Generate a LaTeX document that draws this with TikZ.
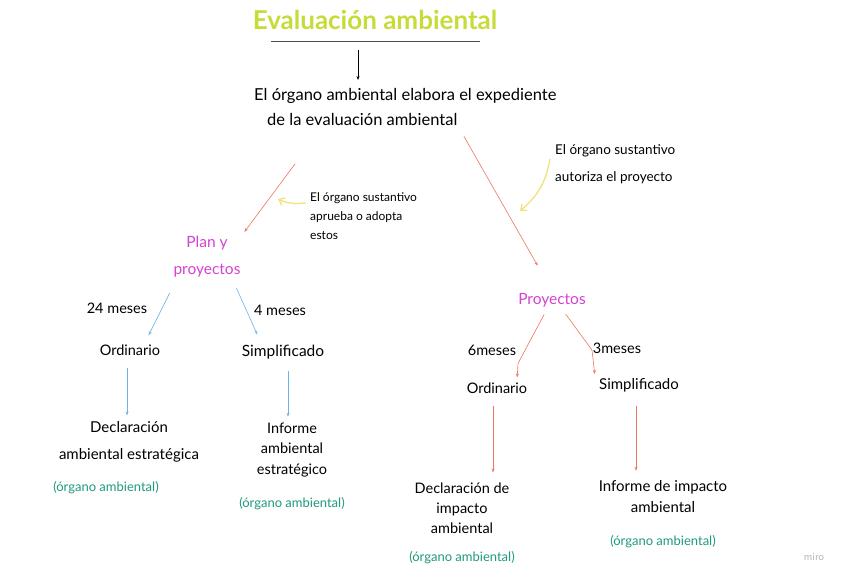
\documentclass[tikz,border=0pt]{standalone}
\usepackage{fontspec}
\setmainfont{Lato}
\usepackage{xcolor}
\usetikzlibrary{positioning, arrows.meta}

\definecolor{titlegreen}{HTML}{C8DB3A}
\definecolor{planpink}{HTML}{D442D4}
\definecolor{organteal}{HTML}{1F9A7C}
\definecolor{arrowred}{HTML}{EE7663}
\definecolor{arrowblue}{HTML}{6DB5E6}
\definecolor{noteyellow}{HTML}{F3E27C}

\begin{document}
\begin{tikzpicture}[
    x=1pt, y=-1pt,
    >={Stealth[length=4pt, width=3pt]},
    every node/.style={inner sep=2pt},
    titletext/.style={font=\fontsize{26}{30}\selectfont\bfseries, text=titlegreen},
    plain/.style={font=\fontsize{14.5}{24}\selectfont, align=center},
    note/.style={font=\fontsize{12}{19}\selectfont, align=left},
    branch/.style={font=\fontsize{15.5}{27}\selectfont, text=planpink, align=center},
    organ/.style={font=\fontsize{13}{15}\selectfont, text=organteal},
    redarrow/.style={->, draw=arrowred, line width=0.6pt},
    bluearrow/.style={->, draw=arrowblue, line width=0.6pt},
    yellowarrow/.style={-{Straight Barb[length=5pt, width=8pt]}, draw=noteyellow, line width=1.3pt}
]

% Frame
\fill[white] (0,0) rectangle (848,581);
\useasboundingbox (0,0) rectangle (848,581);

% Nodes
\node[titletext] (title) at (375,20) {Evaluación ambiental};
\node[plain, font=\fontsize{16.5}{25}\selectfont, align=left, anchor=north west] (expe) at (252,86)
    {El órgano ambiental elabora el expediente\\\hspace{13pt}de la evaluación ambiental};
\node[branch] (plan) at (207,257) {Plan y\\proyectos};
\node[branch] (proy) at (552,300) {Proyectos};
\node[plain] (ord1) at (130,350) {Ordinario};
\node[plain, font=\fontsize{15.5}{24}\selectfont] (simp1) at (283,352) {Simplificado};
\node[plain] (ord2) at (497,388) {Ordinario};
\node[plain, font=\fontsize{15}{24}\selectfont] (simp2) at (639,385) {Simplificado};
\node[plain, font=\fontsize{15}{27}\selectfont] (decl1) at (129,442) {Declaración\\ambiental estratégica};
\node[plain, font=\fontsize{14.5}{20.5}\selectfont] (inf1) at (292,450) {Informe\\ambiental\\estratégico};
\node[plain, font=\fontsize{14.5}{20}\selectfont] (decl2) at (462,508) {Declaración de\\impacto\\ambiental};
\node[plain, font=\fontsize{15}{21}\selectfont] (inf2) at (663,497) {Informe de impacto\\ambiental};

% Notes
\node[note, anchor=north west] (sust1) at (308,190) {El órgano sustantivo\\aprueba o adopta\\estos};
\node[note, font=\fontsize{13.5}{27}\selectfont, anchor=north west] (sust2) at (553,142) {El órgano sustantivo\\autoriza el proyecto};
\coordinate (yel1) at (278,199);
\coordinate (yel2) at (520,211);

% Edges
\draw[gray!60!black, line width=0.9pt] (271,41) -- (480,41);
\draw[->, line width=0.6pt, shorten <=18pt, shorten >=6pt]
    ([xshift=-17pt]title.south) -- ([xshift=-17pt]title.south |- expe.north);
\draw[redarrow, shorten <=45pt, shorten >=3pt] ([xshift=70pt]expe.south west) -- (plan.north east);
\draw[redarrow, shorten <=10pt, shorten >=29pt] ([xshift=207pt]expe.south west) -- (proy.north);
\draw[bluearrow, shorten <=15pt, shorten >=8pt] ([xshift=5pt]plan.south west) -- ([xshift=15pt]ord1.north);
\draw[bluearrow, shorten <=9pt, shorten >=9pt] ([xshift=-10pt]plan.south east) -- ([xshift=-22pt]simp1.north);
\draw[bluearrow, shorten <=10pt, shorten >=4pt] ([xshift=-3pt]ord1.south) -- ([xshift=-3pt]ord1.south |- decl1.north);
\draw[bluearrow, shorten <=10pt, shorten >=4pt] ([xshift=5pt]simp1.south) -- ([xshift=5pt]simp1.south |- inf1.north);
\draw[redarrow, shorten <=6pt, shorten >=3pt] ([xshift=-5pt]proy.south)
    -- ([xshift=21pt, yshift=17pt]ord2.north) -- ([xshift=20pt]ord2.north);
\draw[redarrow, shorten <=6pt, shorten >=2pt] ([xshift=10pt]proy.south)
    -- ([xshift=-5pt, yshift=26pt]simp2.north west) -- ([xshift=-2pt]simp2.north west);
\draw[redarrow, shorten <=10pt, shorten >=8pt] ([xshift=-4pt]ord2.south) -- ([xshift=-4pt]ord2.south |- decl2.north);
\draw[redarrow, shorten <=12pt, shorten >=8pt] ([xshift=-3pt]simp2.south) -- ([xshift=-3pt]simp2.south |- inf2.north);
\draw[yellowarrow] ([yshift=-13pt, xshift=-2pt]sust1.north west) to[out=185, in=-25] (yel1);
\draw[yellowarrow] ([yshift=-17pt, xshift=-3pt]sust2.north west) to[out=-100, in=40] (yel2);

% Labels
\node[organ] (org1) at (106,488) {(órgano ambiental)};
\node[organ, below=16pt of inf1] (org2) {(órgano ambiental)};
\node[organ, below=14pt of decl2] (org3) {(órgano ambiental)};
\node[organ, below=18pt of inf2] (org4) {(órgano ambiental)};
\node[plain] (m24) at (117,308) {24 meses};
\node[plain] (m4) at (280,310) {4 meses};
\node[plain] (m6) at (492,350) {6meses};
\node[plain] (m3) at (617,348) {3meses};
\node[font=\fontsize{11}{13}\selectfont\sffamily, text=gray!60] (miro) at (814,557) {miro};

\end{tikzpicture}
\end{document}
